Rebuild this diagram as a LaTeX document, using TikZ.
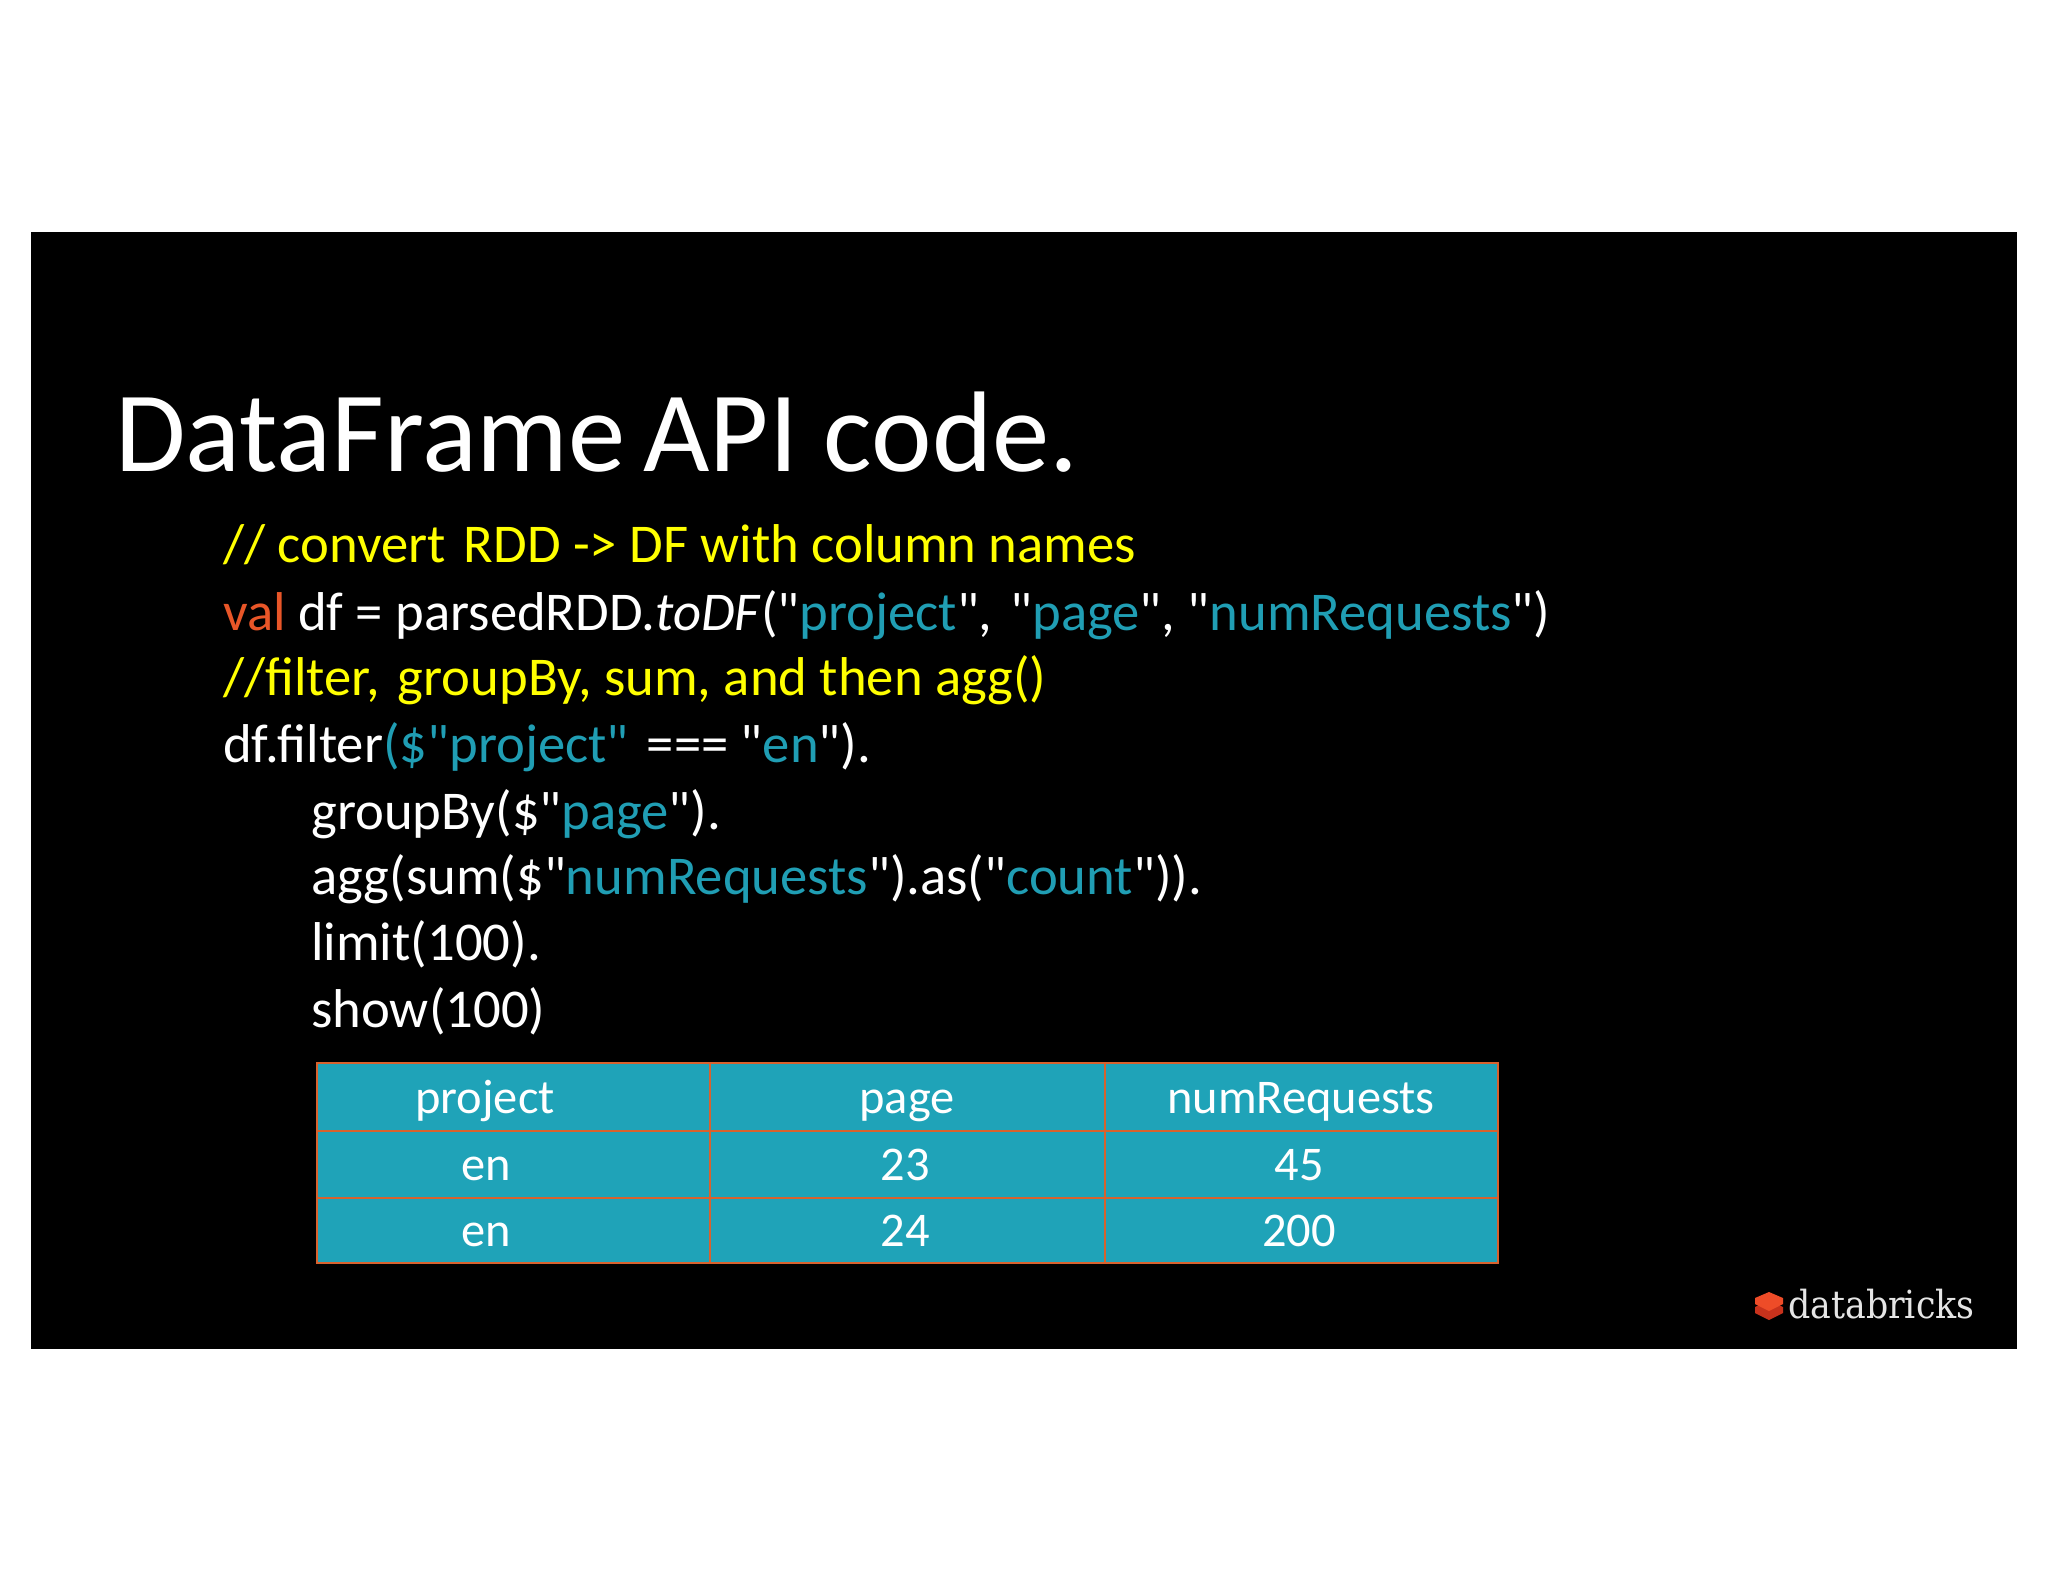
\documentclass[tikz,border=0pt]{standalone}
\usepackage{fontspec}
\setmainfont{Carlito}[Ligatures=TeXOff]
\newfontfamily\logofont{DejaVu Serif}
\usepackage{color}
\definecolor{codeyellow}{RGB}{255,255,0}
\definecolor{codeorange}{RGB}{232,86,40}
\definecolor{codeteal}{RGB}{32,158,180}
\definecolor{cellteal}{RGB}{31,163,184}
\definecolor{cellline}{RGB}{216,98,46}
\definecolor{logored}{RGB}{238,76,40}
\definecolor{logodark}{RGB}{200,50,28}
\newcommand{\tl}[1]{\textcolor{codeteal}{#1}}
\newcommand{\gp}{\hspace{0.33em}}
\tikzset{
  codeline/.style={anchor=base west,inner sep=0pt,text=white,font=\fontsize{41}{41}\selectfont},
  cellhead/.style={anchor=base,inner sep=0pt,text=white,font=\fontsize{36.3}{36.3}\selectfont},
  cellline/.style={color=cellline,line width=2.2pt}
}
\begin{document}
\begin{tikzpicture}[x=0.75pt,y=0.75pt,yscale=-1,xscale=1]
\useasboundingbox (0,0) rectangle (2048,1582);

%Shape: Rectangle [page]
\fill [white] (0,0) rectangle (2048,1582);

%Shape: Rectangle [slide]
\fill [black] (31,232) -- (2017,232) -- (2017,1349) -- (31,1349) -- cycle ;

% Text Node
\draw (115,471) node (title) [anchor=base west][inner sep=0pt][text=white] {\fontsize{86}{86}\selectfont DataFrame\hspace{-6pt} API code.};

% Text Node
\draw (223,562) node (comment1) [codeline] {\textcolor{codeyellow}{// convert\gp RDD -> DF with column names}};
% Text Node
\draw (223,630) node (valline) [codeline] {\textcolor{codeorange}{val} df = parsedRDD.\textit{toDF}("\tl{project}",\gp "\tl{page}", "\tl{numRequests}")};
% Text Node
\draw (223,695) node (comment2) [codeline] {\textcolor{codeyellow}{//filter,\gp groupBy, sum, and then agg()}};
% Text Node
\draw (223,762) node (filterline) [codeline] {df.filter\tl{(\$"project"}\gp === "\tl{en}").};
% Text Node
\draw (311,829) node (groupline) [codeline] {groupBy(\$"\tl{page}").};
% Text Node
\draw (311,894) node (aggline) [codeline] {agg(sum(\$"\tl{numRequests}").as("\tl{count}")).};
% Text Node
\draw (311,960) node (limitline) [codeline] {limit(100).};
% Text Node
\draw (311,1027) node (showline) [codeline] {show(100)};

%Shape: Rectangle [table]
\draw  [cellline][fill=cellteal] (317,1063) -- (1498,1063) -- (1498,1263) -- (317,1263) -- cycle ;

%Straight Lines [rows]
\draw  [cellline] (317,1131) -- (1498,1131) ;
\draw  [cellline] (317,1198) -- (1498,1198) ;

%Straight Lines [columns]
\draw  [cellline] (710,1063) -- (710,1263) ;
\draw  [cellline] (1105,1063) -- (1105,1263) ;

% Text Node
\draw (485,1113) node (head1) [cellhead] {project};
% Text Node
\draw (907,1113) node (head2) [cellhead] {page};
% Text Node
\draw (1301,1113) node (head3) [cellhead] {numRequests};
% Text Node
\draw (486,1180) node (cella1) [cellhead] {en};
% Text Node
\draw (905,1180) node (cella2) [cellhead] {23};
% Text Node
\draw (1299,1180) node (cella3) [cellhead] {45};
% Text Node
\draw (486,1246) node (cellb1) [cellhead] {en};
% Text Node
\draw (905,1246) node (cellb2) [cellhead] {24};
% Text Node
\draw (1299,1246) node (cellb3) [cellhead] {200};

%Shape: Polygon [logo lower]
\fill [logodark] (1755,1307) -- (1769,1300) -- (1783,1307) -- (1783,1313) -- (1769,1320) -- (1755,1313) -- cycle ;
%Shape: Polygon [logo upper]
\fill [logored] (1755,1298) -- (1769,1292) -- (1783,1298) -- (1783,1304) -- (1769,1311) -- (1755,1304) -- cycle ;

% Text Node
\draw (1788,1318) node (logotext) [anchor=base west][inner sep=0pt][text=white!90!black] {\scalebox{0.9}[1]{\logofont\fontsize{29}{29}\selectfont databricks}};

\end{tikzpicture}
\end{document}
